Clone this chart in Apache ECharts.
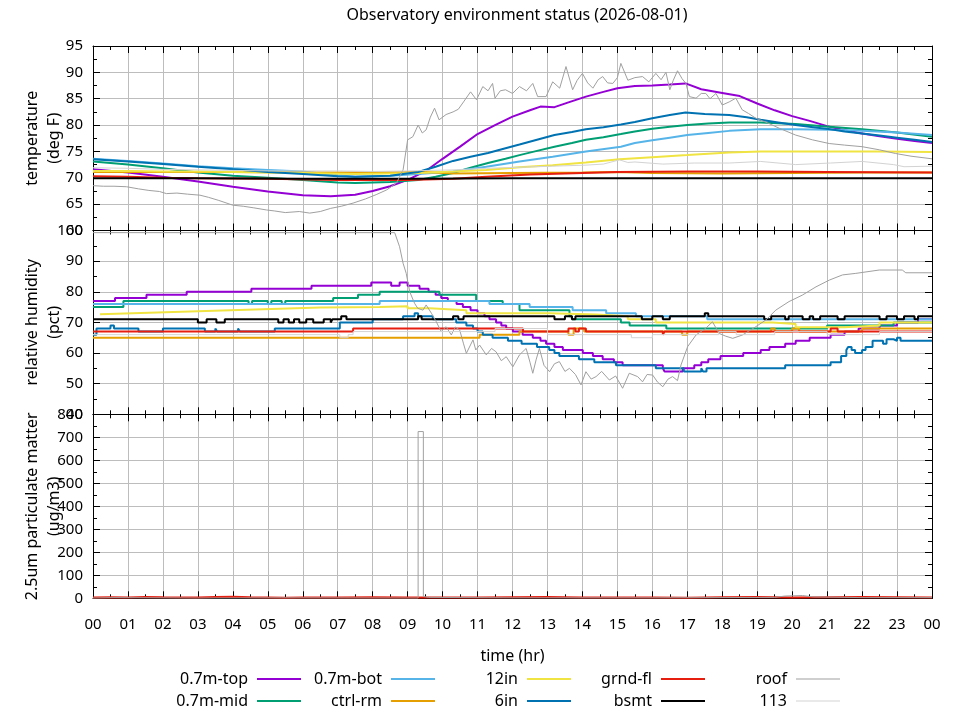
<!DOCTYPE html>
<html><head><meta charset="utf-8">
<script src="https://cdn.jsdelivr.net/npm/echarts@6/dist/echarts.min.js"></script>
<style>html,body{margin:0;padding:0;background:#fff}#c{width:960px;height:720px}</style>
</head><body><div id="c"></div>
<script>
// ---- data: [hour, value] ----
const names = ['0.7m-top','0.7m-mid','0.7m-bot','ctrl-rm','12in','6in','grnd-fl','bsmt','roof','113'];
const hourTicks = ['00','01','02','03','04','05','06','07','08','09','10','11','12','13','14','15','16','17','18','19','20','21','22','23','00'];

// temperature (deg F)
const topT = [[0,71.6],[1,71.0],[2,70.2],[3,69.3],[4,68.3],[5,67.4],[6,66.7],[6.8,66.5],[7.5,66.8],[8.0,67.5],[8.5,68.4],[9.0,69.6],[9.5,71.2],[10.0,73.6],[10.5,75.9],[11.0,78.3],[11.5,80.0],[12.0,81.6],[12.5,82.8],[12.8,83.5],[13.2,83.4],[13.6,84.3],[14.1,85.4],[14.6,86.3],[15.0,87.0],[15.5,87.4],[16.0,87.5],[16.5,87.7],[16.95,87.9],[17.4,86.8],[18.0,86.1],[18.5,85.5],[19.0,84.1],[19.5,82.8],[20.0,81.7],[20.5,80.8],[21.0,79.8],[21.5,79.0],[22.0,78.4],[22.5,77.9],[23.0,77.4],[23.5,77.0],[24,76.6]];
const midT = [[0,73.1],[1,72.5],[2,71.8],[3,71.0],[4,70.4],[5,70.0],[6,69.6],[7,69.1],[7.5,69.0],[8.5,69.2],[9.3,69.6],[9.8,70.2],[10.3,70.9],[10.8,71.9],[11.3,72.8],[11.8,73.6],[12.2,74.3],[12.7,75.1],[13.2,75.9],[13.7,76.6],[14.1,77.2],[14.6,77.7],[15.1,78.3],[15.5,78.8],[16.0,79.3],[16.5,79.7],[17.0,80.0],[17.6,80.3],[18.2,80.5],[19.1,80.5],[20.1,80.2],[21.06,79.7],[22.0,79.2],[23.0,78.6],[24,77.8]];
const botT = [[0,73.6],[1,73.2],[2,72.7],[3,72.2],[4,71.8],[5,71.5],[6,71.2],[7,70.5],[7.5,70.2],[8.5,70.4],[9.3,70.7],[10.3,71.2],[11.25,72.1],[12.2,73.1],[13.15,74.0],[14.1,75.0],[15.1,75.9],[15.5,76.6],[16.0,77.1],[16.5,77.6],[17.0,78.1],[17.6,78.5],[18.2,78.9],[19.1,79.2],[20.1,79.2],[21.1,79.1],[22.0,78.9],[23.0,78.6],[24,78.1]];
const ctrlT = [[0,71.1],[2,71.1],[4,71.1],[6,71.0],[8,71.0],[9.5,71.1],[10.3,70.8],[12,70.9],[14,71.0],[15,71.1],[16,70.9],[18,70.8],[20,70.9],[22,71.0],[24,71.0]];
const in12T = [[0,71.3],[1,71.3],[2,71.2],[3,71.2],[4,71.1],[5,71.0],[6,70.9],[7.5,70.7],[9.3,70.9],[10.3,71.2],[11.25,71.5],[12.2,72.0],[13.15,72.4],[14.1,72.9],[15.06,73.5],[16.0,73.9],[17.0,74.3],[18.2,74.8],[19.1,75.0],[21.0,75.0],[22.5,75.0],[24,74.9]];
const in6T = [[0,73.5],[1,73.1],[2,72.6],[3,72.1],[4,71.6],[5,71.1],[6,70.7],[7,70.3],[7.5,70.2],[8.5,70.4],[9.3,71.1],[9.8,72.1],[10.3,73.2],[10.8,74.0],[11.3,74.7],[11.8,75.6],[12.2,76.3],[12.7,77.2],[13.2,78.1],[13.7,78.7],[14.1,79.2],[14.6,79.6],[15.1,80.1],[15.5,80.6],[16.0,81.3],[16.5,81.9],[16.95,82.4],[17.5,82.1],[18.2,81.9],[18.7,81.5],[19.1,81.0],[19.6,80.5],[20.1,80.0],[20.6,79.6],[21.1,79.2],[21.5,78.8],[22.0,78.4],[22.5,78.0],[23.0,77.6],[23.5,77.2],[24,76.8]];
const grndT = [[0,70.3],[1,70.2],[2,70.0],[3,69.9],[5,69.8],[7,69.6],[9,69.6],[10.3,69.8],[11.25,70.2],[12.5,70.6],[13.5,70.8],[15,71.1],[17,71.2],[19,71.2],[21,71.1],[24,71.0]];
const bsmtT = [[0,69.9],[3,69.9],[6,69.8],[9,69.8],[12,69.9],[15,69.9],[18,69.9],[21,69.9],[24,69.9]];
const roofT = [[0,68.5],[0.3,68.4],[0.6,68.4],[0.96,68.3],[1.3,67.9],[1.6,67.6],[1.9,67.4],[2.1,67.0],[2.4,67.1],[2.7,66.9],[3.06,66.7],[3.3,66.3],[3.6,65.7],[4.0,64.8],[4.3,64.6],[4.6,64.3],[4.96,63.9],[5.2,63.7],[5.5,63.4],[5.9,63.6],[6.2,63.3],[6.5,63.6],[6.8,64.2],[7.1,64.6],[7.44,65.2],[7.8,66.0],[8.1,66.8],[8.4,67.7],[8.68,69.0],[8.87,71.5],[9.0,77.2],[9.15,77.8],[9.3,80.0],[9.42,78.5],[9.53,79.1],[9.65,81.5],[9.77,83.2],[9.9,81.0],[10.1,82.0],[10.3,82.5],[10.45,83.0],[10.6,84.4],[10.8,86.3],[10.97,84.8],[11.15,87.3],[11.3,86.5],[11.43,87.9],[11.5,85.1],[11.65,86.5],[11.8,86.7],[12.0,86.0],[12.2,87.3],[12.4,86.5],[12.58,87.9],[12.72,85.4],[12.96,85.4],[13.15,88.2],[13.35,87.0],[13.53,91.1],[13.72,86.7],[13.85,88.5],[14.0,89.8],[14.15,88.0],[14.3,87.0],[14.45,88.6],[14.58,89.2],[14.72,88.0],[14.87,87.9],[15.0,89.0],[15.1,91.7],[15.3,88.5],[15.5,89.0],[15.72,89.2],[15.9,88.2],[16.1,89.8],[16.25,88.6],[16.39,90.0],[16.5,86.7],[16.6,88.5],[16.72,90.3],[16.85,88.8],[16.96,87.9],[17.06,85.4],[17.25,85.1],[17.4,86.0],[17.53,86.0],[17.65,85.0],[17.82,86.0],[18.0,83.8],[18.2,84.4],[18.39,85.1],[18.57,82.9],[18.75,82.2],[18.96,81.3],[19.3,80.4],[19.63,79.4],[20.1,78.1],[20.58,77.2],[21.06,76.5],[21.5,76.2],[22.0,75.9],[22.5,75.3],[22.96,74.6],[23.4,74.1],[24,73.6]];
const r113T = [[0,71.9],[1,71.8],[2,71.6],[3,71.5],[4,71.4],[5,71.3],[6,71.3],[7,71.3],[8,71.2],[9,71.3],[10.3,71.5],[11.25,71.8],[12.2,72.0],[13.15,72.2],[14.1,72.4],[14.6,72.6],[15.06,73.4],[15.3,72.9],[15.5,73.0],[16.3,72.6],[17.2,72.8],[18.2,72.8],[19.1,73.1],[20.1,72.5],[21.1,72.8],[22.0,73.1],[22.9,72.5],[23.2,72.1],[24,72.2]];

// relative humidity (pct)
const topH = [[0,77],[0.63,78],[1.53,79],[2.68,80],[4.53,81],[6.25,82],[7.96,83],[8.53,82],[8.77,83],[9.0,82],[9.34,81],[9.6,80],[9.8,79],[9.96,78],[10.15,77],[10.4,76],[10.58,75],[10.8,74],[11.0,73],[11.2,72],[11.34,71],[11.53,70],[11.68,69],[11.82,68],[12.01,67],[12.29,66],[12.58,65],[12.8,64],[12.96,63],[13.2,62],[13.44,61],[14.01,60],[14.3,59],[14.58,58],[14.9,57],[15.15,56],[16.3,55],[16.35,54],[16.87,55],[17.2,56],[17.4,57],[17.6,58],[17.95,59],[18.6,60],[19.1,61],[19.35,62],[19.8,63],[20.1,64],[20.5,65],[21.1,66],[21.5,67],[21.9,68],[22.5,69],[23.0,70],[23.6,71],[24,71]];
const midH = [[0,75],[0.87,77],[4.45,76],[4.55,77],[5.0,76],[5.1,77],[5.4,76],[5.5,77],[6.87,78],[7.58,79],[8.2,80],[9.91,79],[10.96,77],[11.72,76],[12.2,74],[13.63,72],[13.7,71],[15.1,70],[15.35,69],[16.4,68],[21.0,69],[22.9,70],[24,70]];
const botH = [[0,76],[8.2,77],[11.34,76],[12.49,75],[13.72,74],[14.68,73],[15.53,72],[17.57,71],[24,71]];
const ctrlH = [[0,65],[11.06,66],[12.2,67],[13.6,66],[13.75,68],[14.05,67],[16.85,66],[17.0,67],[19.4,68],[19.5,67],[20.0,68],[20.2,67],[22.0,68],[24,68]];
const in12H = [[0.2,72.7],[6.5,74.9],[8.2,75.0],[8.2,75.3],[9.0,75.3],[9.0,74.6],[9.63,74.6],[9.63,74],[10.68,74],[10.68,73],[13.06,73],[13.06,72.6],[14.39,72.6],[14.39,72],[15.3,72],[15.3,71],[16.1,71],[16.1,70],[19.44,70],[19.44,69.5],[20.1,69.5],[20.1,68.4],[21.5,68.4],[21.5,69],[22.5,69],[22.5,70],[24,70]];
const in6H = [[0,66],[0.1,68],[0.5,69],[0.6,68],[1.3,67],[2.0,68],[3.2,67],[3.5,68],[3.55,67],[4.15,68],[4.2,67],[5.2,68],[7.06,70],[8.0,71],[8.87,72],[9.2,73],[9.3,72],[9.72,71],[10.39,70],[10.68,69],[10.87,68],[11.0,67],[11.15,66],[11.43,65],[11.87,64],[12.26,63],[12.7,62],[13.05,61],[13.2,60],[13.34,59],[13.9,58],[14.34,57],[14.96,56],[16.1,55],[16.9,54],[17.4,55],[17.45,54],[17.55,55],[19.8,56],[21.1,57],[21.4,59],[21.55,61],[21.6,62],[21.7,61],[21.8,60],[22.0,61],[22.1,62],[22.3,64],[22.6,63],[22.7,64.5],[22.9,64],[23.0,65],[23.1,64],[24,64]];
const grndH = [[0,67],[7.44,68],[12.3,67],[13.6,68],[13.8,67],[13.9,68],[14.1,67],[16.3,66],[16.35,67],[21.1,68],[21.3,67],[24,67]];
const bsmtH = [[0,71],[3.0,70],[3.25,71],[3.53,70],[3.77,71],[5.3,70],[5.45,71],[5.6,70],[5.75,71],[5.9,70],[6.1,71],[6.3,70],[6.6,71],[6.8,70],[6.85,71],[7.1,72],[7.25,71],[9.3,72],[9.4,71],[10.3,72],[10.45,71],[10.6,72],[13.2,71],[13.5,72],[13.7,71],[13.8,72],[15.7,71],[16.0,72],[16.3,71],[16.5,72],[17.5,73],[17.6,72],[19.2,71],[19.4,72],[19.8,71],[19.9,72],[20.3,71],[20.5,72],[20.6,71],[20.8,72],[21.3,71],[21.5,72],[22.5,71],[22.7,72],[23.0,71],[23.2,72],[23.5,71],[23.6,72],[24,72]];
const roofH = [[0,99.3],[8.63,99.3],[8.77,94.7],[8.87,89.3],[8.96,86.0],[9.06,80.0],[9.2,76.2],[9.29,74.6],[9.44,74.0],[9.53,75.7],[9.68,73.0],[9.82,70.2],[9.96,67.0],[10.1,68.6],[10.25,65.9],[10.36,68.5],[10.49,67.5],[10.6,63.0],[10.68,59.9],[10.87,64.3],[10.95,61.0],[11.06,62.6],[11.25,59.4],[11.4,61.5],[11.53,60.4],[11.68,57.5],[11.82,58.8],[12.01,55.5],[12.2,59.4],[12.39,61.5],[12.5,57.0],[12.58,53.4],[12.68,58.0],[12.77,61.5],[12.9,56.0],[13.06,53.9],[13.2,56.5],[13.34,57.2],[13.5,54.0],[13.63,55.0],[13.8,53.0],[13.96,49.6],[14.1,53.9],[14.25,51.5],[14.39,52.3],[14.55,54.0],[14.77,51.2],[14.95,52.5],[15.15,48.5],[15.34,53.4],[15.58,52.3],[15.72,50.6],[15.85,53.0],[16.01,52.8],[16.15,50.5],[16.3,49.0],[16.45,51.5],[16.58,52.3],[16.72,51.0],[16.82,56.1],[17.01,62.1],[17.25,65.9],[17.53,68.1],[17.72,70.2],[17.91,66.4],[18.1,65.5],[18.3,64.8],[18.58,65.9],[18.96,68.6],[19.25,70.8],[19.53,74.0],[19.91,76.8],[20.29,78.9],[20.68,81.6],[21.06,83.8],[21.44,85.5],[21.82,86.0],[22.49,87.1],[23.15,87.1],[23.25,86.2],[24,86.2]];
const r113H = [[0,66],[7.06,65],[7.3,66],[7.44,67],[11.5,68],[13.0,66],[15.4,65],[16.0,66],[17.9,67],[18.4,66],[19.5,67],[21.0,66],[22.5,67],[24,67]];

// 2.5um particulate matter (ug/m3)
const grndP = [[0,3],[0.5,5],[1,4],[1.5,6],[2,5],[3,4],[3.5,6],[4,7],[4.5,5],[5,4],[5.5,2],[6,3],[7,4],[8,5],[9,4],[10,3],[11,4],[12,5],[13,6],[14,4],[15,3],[16,3],[17,2],[18,5],[19,6],[20,4],[21,5],[22,6],[23,5],[24,4]];
const roofP = [[0,1],[0.6,3],[3,1],[5.4,2],[9.3,1],[9.3,725],[9.45,725],[9.45,8],[9.6,4],[12,2],[16,2],[19.5,4],[19.8,10],[20.3,12],[20.6,6],[22,3],[24,3]];

// ---- styling ----
const colors = {'0.7m-top':'#9400d3','0.7m-mid':'#009e73','0.7m-bot':'#56b4e9','ctrl-rm':'#e69f00','12in':'#f0e442','6in':'#0072b2','grnd-fl':'#e51e10','bsmt':'#000000','roof':'#a0a0a0','113':'#d3d3d3'};
const widths = {'roof':1,'113':1};
const FONT = 'Noto Sans';
const gridTops = [46, 230.5, 414.3];
const gridH = [184.5, 183.8, 184];
const yRanges = [[60,95,5],[40,100,10],[0,800,100]];
const yNames = ['temperature\n(deg F)','relative humidity\n(pct)','2.5um particulate matter\n(ug/m3)'];

const grids = gridTops.map((t,i)=>({left:93, width:839, top:t, height:gridH[i], containLabel:false, outerBoundsMode:'none'}));
const xAxes = [], yAxes = [];
const lineOn = {show:true, onZero:false, lineStyle:{color:'#000',width:1}};
const tickAxis = (len)=>({axisLine:{show:false,onZero:false}, splitLine:{show:false}, axisLabel:{show:false},
  axisTick:{show:true,inside:true,length:len,lineStyle:{color:'#000'}}});
for (let i=0;i<3;i++){
  const base = {type:'value', gridIndex:i, min:0, max:24, interval:1, axisLine:lineOn,
    axisTick:{show:true,inside:true,length:7,lineStyle:{color:'#000'}}};
  xAxes.push(Object.assign({}, base, {position:'bottom',
    splitLine:{show:true,lineStyle:{color:'#bdbdbd',width:1}},
    axisLabel:{show:i===2,margin:19,fontFamily:FONT,fontSize:15,color:'#000',hideOverlap:false,
      formatter:v=>hourTicks[Math.round(v)]},
    name: i===2 ? 'time (hr)' : '', nameLocation:'middle', nameGap:50, nameMoveOverlap:false,
    nameTextStyle:{fontFamily:FONT,fontSize:16,color:'#000'}}));
  xAxes.push(Object.assign({}, base, {position:'top', splitLine:{show:false}, axisLabel:{show:false}}));
  // half-hour minor ticks (bottom and top)
  xAxes.push(Object.assign({type:'value', gridIndex:i, min:0, max:24, interval:0.5, position:'bottom'}, tickAxis(4)));
  xAxes.push(Object.assign({type:'value', gridIndex:i, min:0, max:24, interval:0.5, position:'top'}, tickAxis(4)));

  const [mn,mx,iv] = yRanges[i];
  const ybase = {type:'value', gridIndex:i, min:mn, max:mx, interval:iv, axisLine:lineOn,
    axisTick:{show:true,inside:true,length:7,lineStyle:{color:'#000'}}};
  yAxes.push(Object.assign({}, ybase, {position:'left',
    splitLine:{show:true,lineStyle:{color:'#bdbdbd',width:1}},
    axisLabel:{show:true,margin:10,fontFamily:FONT,fontSize:15,color:'#000',showMinLabel:true,showMaxLabel:true,hideOverlap:false},
    name:yNames[i], nameLocation:'middle', nameRotate:90, nameGap:28, nameMoveOverlap:false,
    nameTextStyle:{fontFamily:FONT,fontSize:16,color:'#000',lineHeight:22,align:'center'}}));
  yAxes.push(Object.assign({}, ybase, {position:'right', splitLine:{show:false}, axisLabel:{show:false}}));
  yAxes.push(Object.assign({type:'value', gridIndex:i, min:mn, max:mx, interval:iv/2, position:'left'}, tickAxis(4)));
  yAxes.push(Object.assign({type:'value', gridIndex:i, min:mn, max:mx, interval:iv/2, position:'right'}, tickAxis(4)));
}

const panelData = [
  {'0.7m-top':topT,'0.7m-mid':midT,'0.7m-bot':botT,'ctrl-rm':ctrlT,'12in':in12T,'6in':in6T,'grnd-fl':grndT,'bsmt':bsmtT,'roof':roofT,'113':r113T},
  {'0.7m-top':topH,'0.7m-mid':midH,'0.7m-bot':botH,'ctrl-rm':ctrlH,'12in':in12H,'6in':in6H,'grnd-fl':grndH,'bsmt':bsmtH,'roof':roofH,'113':r113H},
  {'grnd-fl':grndP,'roof':roofP}
];
const stepSet = new Set(['0.7m-top','0.7m-mid','0.7m-bot','ctrl-rm','6in','grnd-fl','bsmt','113']);
const series = [];
panelData.forEach((pd,i)=>{
  names.forEach(n=>{
    if(!pd[n]) return;
    series.push({name:n, type:'line', xAxisIndex:4*i, yAxisIndex:4*i, data:pd[n],
      showSymbol:false, symbol:'none', animation:false,
      step: (i===1 && stepSet.has(n)) ? 'end' : false,
      lineStyle:{color:colors[n], width: widths[n]||2},
      itemStyle:{color:colors[n]}, z: 3});
  });
});

// legend: 5 columns x 2 rows, text right-aligned before sample
const colEnds = [301,435,571,705,840];
const rowCenters = [679,701];
const legends = names.map((n,k)=>{
  const col = Math.floor(k/2), row = k%2;
  return {data:[{name:n, icon:'rect'}], orient:'horizontal', align:'right',
    right: 960-colEnds[col], top: rowCenters[row]-11, padding:0,
    itemWidth:44, itemHeight: widths[n]||2, selectedMode:false,
    textStyle:{fontFamily:FONT,fontSize:16,color:'#000',padding:[0,4,0,0],lineHeight:22}};
});

const chart = echarts.init(document.getElementById('c'), null, {renderer:'canvas'});
chart.setOption({
  animation:false,
  backgroundColor:'#fff',
  textStyle:{fontFamily:FONT},
  title:{text:'Observatory environment status (2026-08-01)', left:512, textAlign:'center', top:2,
    textStyle:{fontFamily:FONT,fontSize:16,fontWeight:'normal',color:'#000'}},
  legend: legends,
  grid: grids, xAxis: xAxes, yAxis: yAxes, series: series
});
</script></body></html>
